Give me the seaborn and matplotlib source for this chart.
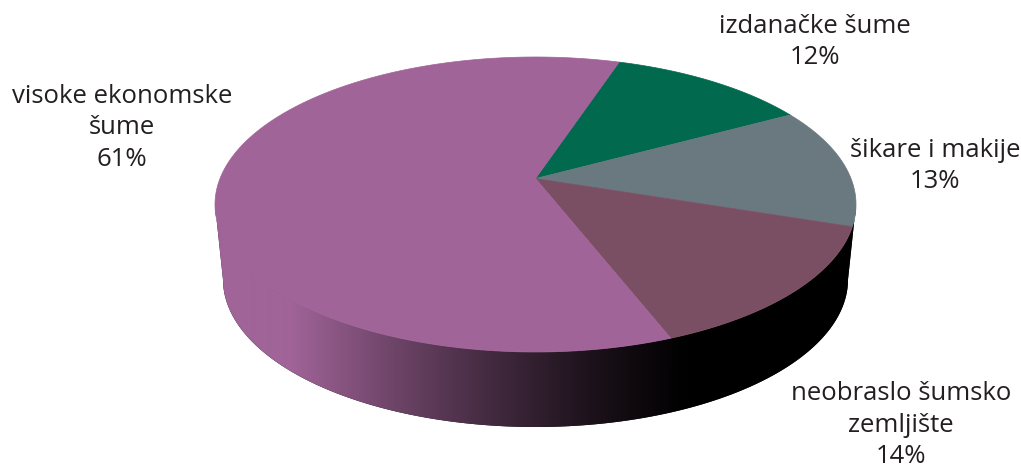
import numpy as np
import matplotlib
matplotlib.use("Agg")
import matplotlib.pyplot as plt
from matplotlib.patches import Polygon
import seaborn as sns

# --- data ---
labels = ["izdanačke šume", "šikare i makije", "neobraslo šumsko\nzemljište", "visoke ekonomske\nšume"]
shares = [12, 13, 14, 61]
colors = ["#00694E", "#6A7880", "#7B4F63", "#A06498"]
label_pos = [(815, 42), (935, 166), (901, 425), (122, 128)]

sns.set_theme(style="white")
plt.rcParams['font.family'] = ['Open Sans', 'DejaVu Sans']
palette = sns.color_palette(colors)

W, H = 1021, 468
fig = plt.figure(figsize=(W / 100, H / 100), dpi=100)
ax = fig.add_axes([0, 0, 1, 1])

# --- 3D pie geometry (pixels) ---
cx, cy = 535.5, 204.5
a, b = 320.5, 147.5
apex_lift = 0.176      # apex sits above the ellipse centre
depth = 75
a_bot = a - 8
start = np.deg2rad(71.7)


def ray_hit(theta):
    # where a ray from the apex meets the rim, as ellipse parameter
    u = np.array([np.cos(theta), np.sin(theta)])
    p = np.array([0.0, apex_lift])
    pu = p @ u
    s = -pu + np.sqrt(pu ** 2 - p @ p + 1)
    q = p + s * u
    return np.arctan2(q[1], q[0])


def side_band(tt):
    top = np.column_stack([cx + a * np.cos(tt), cy - b * np.sin(tt)])
    bot = np.column_stack([cx + a_bot * np.cos(tt), cy - b * np.sin(tt) + depth])[::-1]
    return np.vstack([top, bot])


# dark underlay so the seams between side pieces don't show white
ax.add_patch(Polygon(side_band(np.linspace(-np.pi, 0, 400)), closed=True,
                     facecolor='#100a0f', edgecolor='none', zorder=0.5))

bounds = start - 2 * np.pi * np.concatenate([[0], np.cumsum(shares)]) / sum(shares)
apex = (cx, cy - b * apex_lift)
xs = np.arange(W)
fade = np.clip((700 - xs) / 410, 0, 1) ** 1.3

for i, col in enumerate(palette):
    t0 = ray_hit(bounds[i])
    t1 = ray_hit(bounds[i + 1])
    while t1 >= t0:
        t1 -= 2 * np.pi
    t = np.linspace(t0, t1, 400)

    # side wall: only the front half of the rim
    vis = np.sin(t) <= 0
    runs = np.split(np.arange(len(t)), np.where(np.diff(vis.astype(int)) != 0)[0] + 1)
    for r in runs:
        if not vis[r[0]] or len(r) < 2:
            continue
        side = Polygon(side_band(t[r]), closed=True, facecolor='none', edgecolor='none')
        ax.add_patch(side)
        img = np.ones((H, W, 3)) * np.array(col) * fade[None, :, None]
        im = ax.imshow(img, extent=(0, W, H, 0), aspect='auto', zorder=1,
                       interpolation='bilinear')
        im.set_clip_path(side)

    # top face
    rim = np.column_stack([cx + a * np.cos(t), cy - b * np.sin(t)])
    face = Polygon(np.vstack([apex, rim]), closed=True, facecolor=col, edgecolor=col,
                   linewidth=0.5, zorder=2)
    ax.add_patch(face)

for lab, val, (lx, ly) in zip(labels, shares, label_pos):
    ax.text(lx, ly, f"{lab}\n{val}%", ha='center', va='center', fontsize=18.5,
            color='#231f20', linespacing=1.33)

ax.set_xlim(0, W)
ax.set_ylim(H, 0)
ax.axis('off')
fig.savefig("out.png", dpi=100, facecolor='white')
